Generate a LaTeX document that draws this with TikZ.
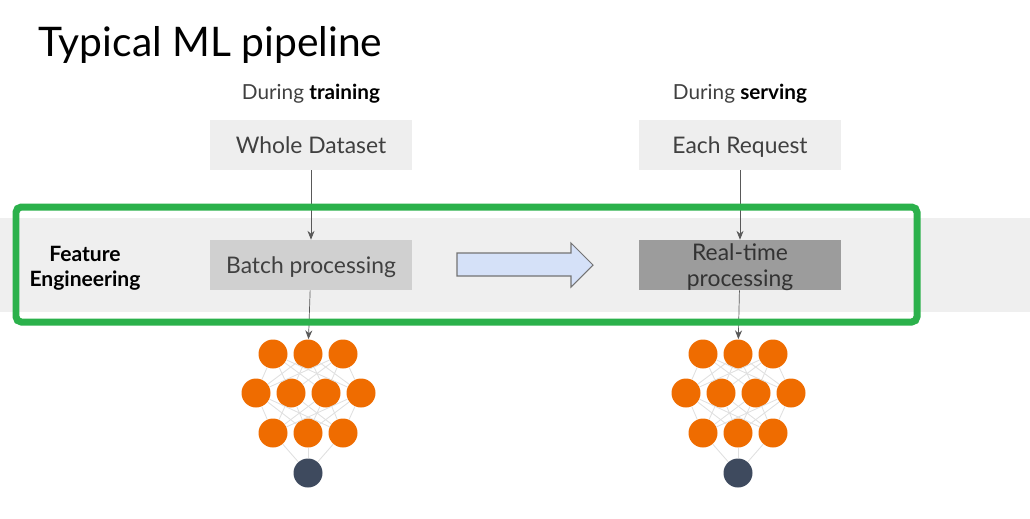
\documentclass[tikz,border=0pt]{standalone}
\usepackage{fontspec}
\setmainfont{Lato}
\usepackage{tikz}
\usetikzlibrary{arrows.meta}

\definecolor{bandgray}{HTML}{EFEFEF}
\definecolor{boxlight}{HTML}{EEEEEE}
\definecolor{boxmid}{HTML}{D0D0D0}
\definecolor{boxdark}{HTML}{9C9C9C}
\definecolor{nnorange}{HTML}{EF6C00}
\definecolor{nnout}{HTML}{3E4A5E}
\definecolor{framegreen}{HTML}{2BB14B}
\definecolor{arrowblue}{HTML}{D5E1F8}

\tikzset{
  stage/.style={minimum width=4.04cm,minimum height=1cm,inner sep=0pt,
    text=black!75,font=\fontsize{13}{14}\selectfont,
    text height=10pt,text depth=0pt},
  flow/.style={-{Stealth[length=5pt,width=4pt]},black!65,thin},
  unit/.style={circle,fill=nnorange,minimum size=0.58cm,inner sep=0pt},
  link/.style={black!12,line width=0.5pt},
}

\begin{document}
\begin{tikzpicture}[x=0.02cm,y=-0.02cm]
          \useasboundingbox (0,0) rectangle (1030,518);
          \fill[bandgray] (0,218) rectangle (1030,312);
          \node[anchor=base west,inner sep=0pt,font=\fontsize{23.2}{28}\selectfont] (title) at (38,56) {Typical ML pipeline};
          \node[align=center,font=\bfseries\fontsize{12}{14}\selectfont] (fe) at (85,268) {Feature\\Engineering};
          % training side
          \node[font=\fontsize{11.8}{14}\selectfont,text=black!75] (train) at (311,94) {During \textcolor{black}{\bfseries training}};
          \node[stage,fill=boxlight] (whole) at (311,145) {Whole Dataset};
          \node[stage,fill=boxmid] (batch) at (311,265) {Batch processing};
          % serving side
          \node[font=\fontsize{11.8}{14}\selectfont,text=black!75] (serve) at (740,94) {During \textcolor{black}{\bfseries serving}};
          \node[stage,fill=boxlight] (req) at (740,145) {Each Request};
          \node[stage,fill=boxdark,label={[align=center,text=black!80,
            font=\fontsize{13}{14.5}\selectfont,yshift=-1.2pt]center:Real-time\\processing}] (rt) at (740,265) {};
          % block arrow
          \draw[fill=arrowblue,draw=black!55,line width=0.6pt]
          (457,253) -- (571,253) -- (571,243) -- (593,265) -- (571,287)
          -- (571,276) -- (457,276) -- cycle;
          % networks
          \foreach \side/\cx in {l/308,r/738}{
            \foreach \i/\dx in {1/-35,2/0,3/35}{
              \node[unit] (\side a\i) at (\cx+\dx,354) {};
              \node[unit] (\side c\i) at (\cx+\dx,433) {};
            }
            \foreach \i/\dx in {1/-52,2/-17,3/18,4/53}
              \node[unit] (\side b\i) at (\cx+\dx,393) {};
            \node[unit,fill=nnout] (\side out) at (\cx,473) {};
          }
          \foreach \side in {l,r}{
            \foreach \i in {1,2,3}{
              \foreach \j in {1,2,3,4}{
                \draw[link] (\side a\i) -- (\side b\j);
                \draw[link] (\side b\j) -- (\side c\i);
              }
              \draw[link] (\side c\i) -- (\side out);
            }
          }
          \draw[flow] (whole) -- (batch);
          \draw[flow] (batch) -- (la2);
          \draw[flow] (req) -- (rt);
          \draw[flow] (rt) -- (ra2);
          % highlight frame
          \draw[framegreen,line width=0.14cm,rounded corners=3pt] (16,207) rectangle (917,322);
        \end{tikzpicture}
\end{document}
